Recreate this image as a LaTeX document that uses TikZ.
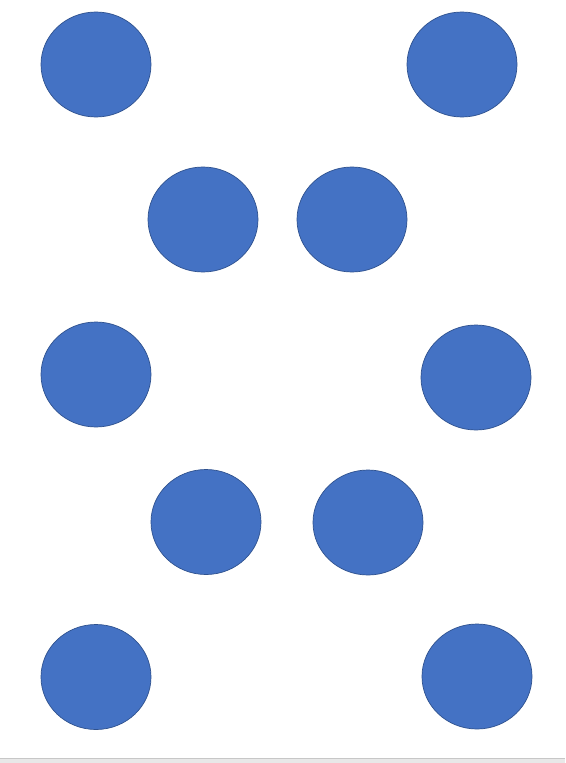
\documentclass[tikz,border=0pt]{standalone}
\definecolor{dotBlue}{RGB}{68,114,196}
\definecolor{dotEdge}{RGB}{47,82,143}
\definecolor{barGray}{RGB}{232,232,232}
\usepackage{tikz}
\usetikzlibrary{shapes.geometric}
\begin{document}
\begin{tikzpicture}[x=1pt, y=-1pt,
          dot/.style={ellipse, draw=dotEdge, fill=dotBlue, line width=0.7pt,
            minimum width=110pt, minimum height=105pt, inner sep=0pt}
        ]
          \useasboundingbox (0,0) rectangle (565,763);
          \fill[white] (0,0) rectangle (565,763);
          \fill[barGray] (0,758) rectangle (565,763);
          \draw[black!22, line width=0.8pt] (0,758) -- (565,758);
          % outer column, left
          \node[dot] (tl) at (96,64.5) {};
          \node[dot] (ml) at (96,374.5) {};
          \node[dot] (bl) at (96,677) {};
          % outer column, right
          \node[dot] (tr) at (462,64.5) {};
          \node[dot] (mr) at (476,377.5) {};
          \node[dot] (br) at (477,676.5) {};
          % inner pairs
          \node[dot] (ua) at (203,219.5) {};
          \node[dot] (ub) at (352,219.5) {};
          \node[dot] (la) at (206,522) {};
          \node[dot] (lb) at (368,522.5) {};
        \end{tikzpicture}
\end{document}
